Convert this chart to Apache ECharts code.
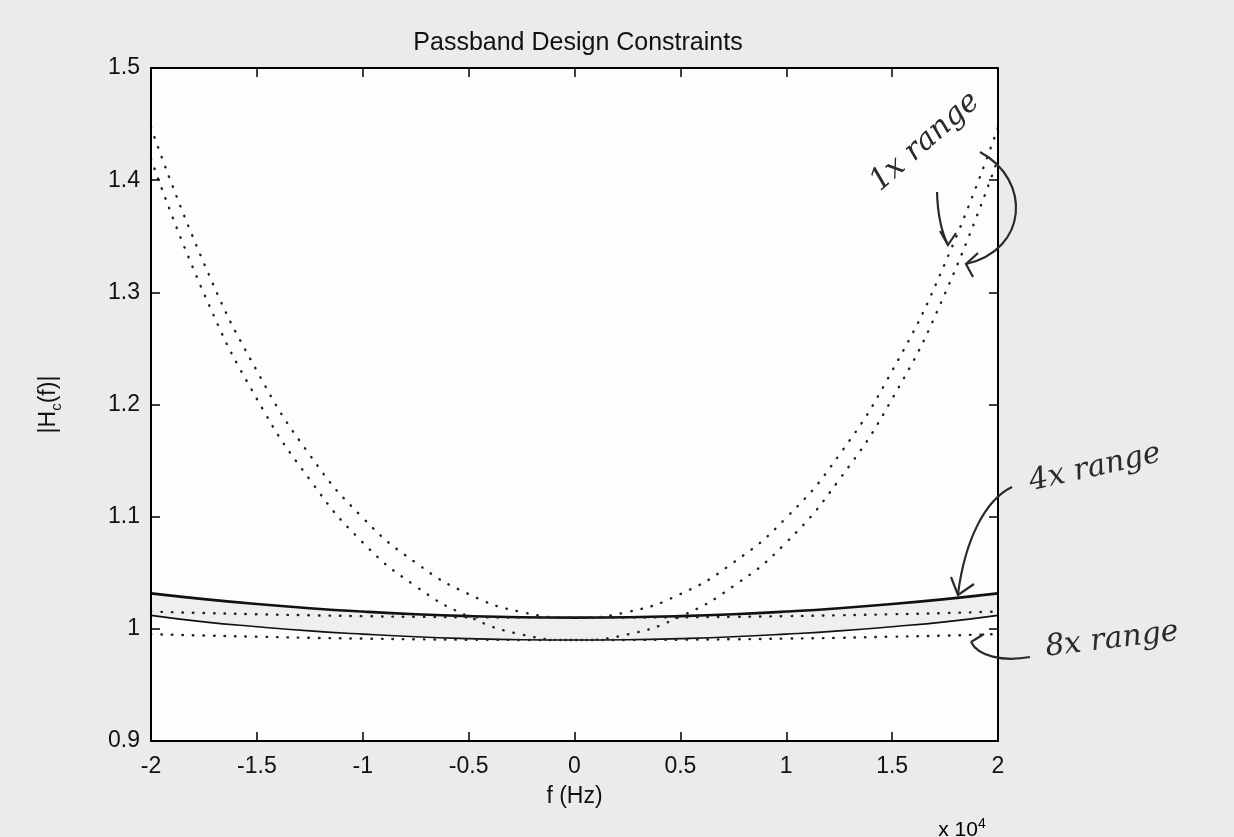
<!DOCTYPE html>
<html><head><meta charset="utf-8">
<script src="https://cdn.jsdelivr.net/npm/echarts@6/dist/echarts.min.js"></script>
<style>html,body{margin:0;padding:0;background:#e9ece9;}#c{width:1234px;height:837px;}</style>
</head><body><div id="c"></div>
<script>
// frequency in units of 1e4 Hz
const freq = [-2, -1.75, -1.5, -1.25, -1, -0.75, -0.5, -0.25, 0, 0.25, 0.5, 0.75, 1, 1.25, 1.5, 1.75, 2];
// 1x range (dotted parabolas)
const range1xUpper = [1.447, 1.326, 1.230, 1.155, 1.099, 1.059, 1.031, 1.015, 1.010, 1.015, 1.031, 1.059, 1.099, 1.155, 1.230, 1.326, 1.447];
const range1xLower = [1.419, 1.299, 1.205, 1.133, 1.077, 1.038, 1.011, 0.995, 0.990, 0.995, 1.011, 1.038, 1.077, 1.133, 1.205, 1.299, 1.419];
// 4x range (solid lines, shaded band)
const range4xUpper = [1.0316, 1.0265, 1.0221, 1.0184, 1.0154, 1.0130, 1.0113, 1.0103, 1.0100, 1.0103, 1.0113, 1.0130, 1.0154, 1.0184, 1.0221, 1.0265, 1.0316];
const range4xLower = [1.0120, 1.0062, 1.0019, 0.9982, 0.9953, 0.9929, 0.9913, 0.9903, 0.9900, 0.9903, 0.9913, 0.9929, 0.9953, 0.9982, 1.0019, 1.0062, 1.0120];
// 8x range (dotted lines)
const range8xUpper = [1.0154, 1.0141, 1.0130, 1.0121, 1.0113, 1.0107, 1.0103, 1.0101, 1.0100, 1.0101, 1.0103, 1.0107, 1.0113, 1.0121, 1.0130, 1.0141, 1.0154];
const range8xLower = [0.9953, 0.9940, 0.9930, 0.9920, 0.9913, 0.9907, 0.9903, 0.9901, 0.9900, 0.9901, 0.9903, 0.9907, 0.9913, 0.9920, 0.9930, 0.9940, 0.9953];
const xTicks = { min: -2, max: 2, interval: 0.5 };
const yTicks = { min: 0.9, max: 1.5, interval: 0.1 };

const pairs = (ys) => freq.map((f, i) => [f, ys[i]]);
const FONT = 'Liberation Sans';
const PLOT_BG = '#fdfdfd';
const dotted = () => ({ type: [0.5, 10], width: 2.4, cap: 'round', color: '#222' });
const pen = () => ({ stroke: '#2a2a2a', lineWidth: 2.2, fill: null });

const chart = echarts.init(document.getElementById('c'));
const axisCommon = () => ({
  type: 'value', z: 6,
  axisLine: { show: true, onZero: false, lineStyle: { color: '#000', width: 2 } },
  axisTick: { show: true, inside: true, length: 9, lineStyle: { color: '#000', width: 1.5 } },
  splitLine: { show: false }
});
chart.setOption({
  backgroundColor: '#e9ece9',
  animation: false,
  title: {
    text: 'Passband Design Constraints', left: 573, top: 26, textAlign: 'center',
    textStyle: { fontFamily: FONT, fontSize: 25, fontWeight: 'normal', color: '#111' }
  },
  grid: { left: 151, top: 68, width: 847, height: 673, show: true, backgroundColor: PLOT_BG, borderWidth: 0 },
  xAxis: [
    Object.assign(axisCommon(), {
      position: 'bottom', min: xTicks.min, max: xTicks.max, interval: xTicks.interval,
      axisLabel: { fontFamily: FONT, fontSize: 23, color: '#111', margin: 14 },
      name: 'f (Hz)', nameLocation: 'middle', nameGap: 44,
      nameTextStyle: { fontFamily: FONT, fontSize: 23, color: '#111' }
    }),
    Object.assign(axisCommon(), {
      position: 'top', min: xTicks.min, max: xTicks.max, interval: xTicks.interval,
      axisLabel: { show: false }
    })
  ],
  yAxis: [
    Object.assign(axisCommon(), {
      position: 'left', min: yTicks.min, max: yTicks.max, interval: yTicks.interval,
      axisLabel: { fontFamily: FONT, fontSize: 23, color: '#111', margin: 11 },
      name: '{n||H}{s|c}{n|(f)|}', nameLocation: 'middle', nameGap: 87,
      nameTextStyle: {
        fontFamily: FONT, fontSize: 23, color: '#111',
        rich: {
          n: { fontFamily: FONT, fontSize: 23, color: '#111', lineHeight: 30 },
          s: { fontFamily: FONT, fontSize: 15, color: '#111', verticalAlign: 'bottom', lineHeight: 30 }
        }
      }
    }),
    Object.assign(axisCommon(), {
      position: 'right', min: yTicks.min, max: yTicks.max, interval: yTicks.interval,
      axisLabel: { show: false }
    })
  ],
  series: [
    // shaded band between 4x bounds: grey fill under the upper bound, then plot-colour fill under the lower bound
    { name: 'bandTop', type: 'line', data: pairs(range4xUpper), symbol: 'none', smooth: true,
      lineStyle: { opacity: 0 }, areaStyle: { color: '#efefef', opacity: 1, origin: 'start' }, z: 1, silent: true },
    { name: 'bandBottom', type: 'line', data: pairs(range4xLower), symbol: 'none', smooth: true,
      lineStyle: { opacity: 0 }, areaStyle: { color: PLOT_BG, opacity: 1, origin: 'start' }, z: 1, silent: true },
    { name: '4x upper', type: 'line', data: pairs(range4xUpper), symbol: 'none', smooth: true,
      lineStyle: { color: '#111', width: 2.6 }, z: 3 },
    { name: '4x lower', type: 'line', data: pairs(range4xLower), symbol: 'none', smooth: true,
      lineStyle: { color: '#111', width: 1.6 }, z: 3 },
    { name: '8x upper', type: 'line', data: pairs(range8xUpper), symbol: 'none', smooth: true, lineStyle: dotted(), z: 4 },
    { name: '8x lower', type: 'line', data: pairs(range8xLower), symbol: 'none', smooth: true, lineStyle: dotted(), z: 4 },
    { name: '1x upper', type: 'line', data: pairs(range1xUpper), symbol: 'none', smooth: true, lineStyle: dotted(), z: 4 },
    { name: '1x lower', type: 'line', data: pairs(range1xLower), symbol: 'none', smooth: true, lineStyle: dotted(), z: 4 }
  ],
  graphic: [
    { type: 'text', x: 962, y: 830, z: 10, style: {
        text: '{a|x 10}{b|4}', textAlign: 'center', textVerticalAlign: 'middle',
        rich: { a: { fontFamily: FONT, fontSize: 21, color: '#111', lineHeight: 26 },
                b: { fontFamily: FONT, fontSize: 14, color: '#111', verticalAlign: 'top', lineHeight: 26 } } } },
    // handwritten annotations
    { type: 'text', x: 925, y: 142, rotation: 0.72, z: 10, style: {
        text: '1x range', textAlign: 'center', textVerticalAlign: 'middle',
        font: 'italic 30px "DejaVu Serif"', fill: '#2a2a2a' } },
    { type: 'bezierCurve', z: 10, shape: { x1: 937, y1: 192, cpx1: 938, cpy1: 225, x2: 948, y2: 245 }, style: pen() },
    { type: 'polyline', z: 10, shape: { points: [[940, 231], [948, 245], [956, 233]] }, style: pen() },
    { type: 'bezierCurve', z: 10, shape: { x1: 980, y1: 152, cpx1: 1032, cpy1: 180, cpx2: 1028, cpy2: 250, x2: 966, y2: 264 }, style: pen() },
    { type: 'polyline', z: 10, shape: { points: [[978, 253], [966, 264], [973, 277]] }, style: pen() },
    { type: 'text', x: 1095, y: 468, rotation: 0.22, z: 10, style: {
        text: '4x range', textAlign: 'center', textVerticalAlign: 'middle',
        font: 'italic 30px "DejaVu Serif"', fill: '#2a2a2a' } },
    { type: 'bezierCurve', z: 10, shape: { x1: 1012, y1: 487, cpx1: 985, cpy1: 500, cpx2: 965, cpy2: 540, x2: 958, y2: 594 }, style: pen() },
    { type: 'polyline', z: 10, shape: { points: [[951, 577], [958, 595], [974, 584]] }, style: pen() },
    { type: 'text', x: 1112, y: 640, rotation: 0.12, z: 10, style: {
        text: '8x range', textAlign: 'center', textVerticalAlign: 'middle',
        font: 'italic 30px "DejaVu Serif"', fill: '#2a2a2a' } },
    { type: 'bezierCurve', z: 10, shape: { x1: 1030, y1: 657, cpx1: 1002, cpy1: 662, cpx2: 978, cpy2: 656, x2: 971, y2: 642 }, style: pen() },
    { type: 'polyline', z: 10, shape: { points: [[971, 642], [984, 634]] }, style: pen() }
  ]
});
</script></body></html>
